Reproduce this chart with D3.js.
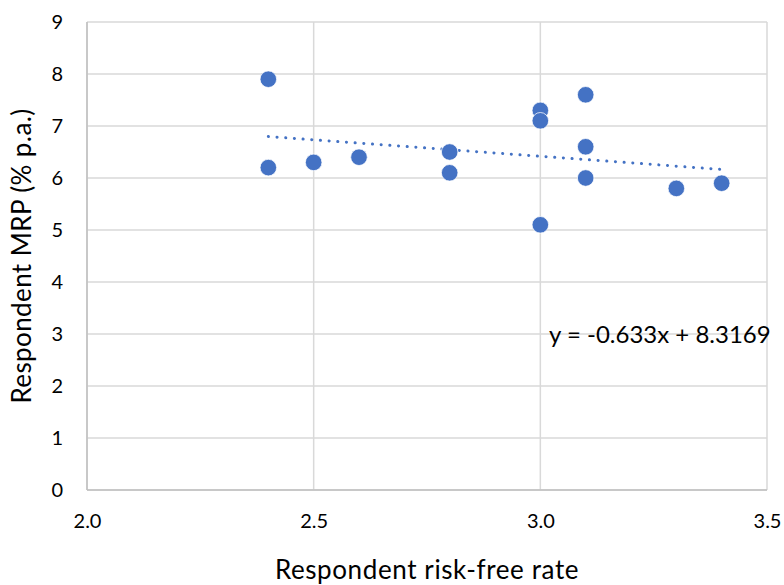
<!DOCTYPE html>
<html>
<head>
<meta charset="utf-8">
<script src="https://cdn.jsdelivr.net/npm/d3@7"></script>
<style>
  body { margin: 0; background: #fff; }
  text { font-family: Lato, "Open Sans", sans-serif; fill: #000; }
</style>
</head>
<body>
<div id="chart"></div>
<script>
// Respondent values
const riskFree = [2.4, 2.4, 2.5, 2.6, 2.8, 2.8, 3.0, 3.0, 3.0, 3.1, 3.1, 3.1, 3.3, 3.4];
const mrp      = [7.9, 6.2, 6.3, 6.4, 6.5, 6.1, 7.3, 7.1, 5.1, 7.6, 6.6, 6.0, 5.8, 5.9];

const xTicks = [2.0, 2.5, 3.0, 3.5];
const yTicks = [0, 1, 2, 3, 4, 5, 6, 7, 8, 9];
const equationLabel = "y = -0.633x + 8.3169";

const width = 784, height = 585;
const margin = { top: 22, right: 17, bottom: 95, left: 87 };

const svg = d3.select("#chart")
  .append("svg")
  .attr("width", width)
  .attr("height", height);

const x = d3.scaleLinear()
  .domain([2.0, 3.5])
  .range([margin.left, width - margin.right]);

const y = d3.scaleLinear()
  .domain([0, 9])
  .range([height - margin.bottom, margin.top]);

// gridlines
svg.append("g")
  .selectAll("line")
  .data(yTicks)
  .join("line")
    .attr("x1", x(2.0))
    .attr("x2", x(3.5))
    .attr("y1", d => y(d))
    .attr("y2", d => y(d))
    .attr("stroke", "#d9d9d9")
    .attr("stroke-width", 1.5);

svg.append("g")
  .selectAll("line")
  .data(xTicks)
  .join("line")
    .attr("x1", d => x(d))
    .attr("x2", d => x(d))
    .attr("y1", y(0))
    .attr("y2", y(9))
    .attr("stroke", "#d9d9d9")
    .attr("stroke-width", 1.5);

// axes lines (left & bottom a bit darker)
svg.append("line")
  .attr("x1", x(2.0)).attr("x2", x(2.0))
  .attr("y1", y(0)).attr("y2", y(9))
  .attr("stroke", "#bfbfbf").attr("stroke-width", 1.5);
svg.append("line")
  .attr("x1", x(2.0)).attr("x2", x(3.5))
  .attr("y1", y(0)).attr("y2", y(0))
  .attr("stroke", "#bfbfbf").attr("stroke-width", 1.5);

// tick labels via d3 axes, with domain and tick lines removed
const yAxis = svg.append("g")
  .attr("transform", `translate(${margin.left},0)`)
  .call(d3.axisLeft(y).tickValues(yTicks).tickSize(0).tickPadding(24).tickFormat(d3.format("d")));
yAxis.select(".domain").remove();
yAxis.selectAll("text").style("font-size", "20px").style("font-family", "Lato, sans-serif").attr("fill", "#000");

const xAxis = svg.append("g")
  .attr("transform", `translate(0,${height - margin.bottom})`)
  .call(d3.axisBottom(x).tickValues(xTicks).tickSize(0).tickPadding(24).tickFormat(d3.format(".1f")));
xAxis.select(".domain").remove();
xAxis.selectAll("text").style("font-size", "20px").style("font-family", "Lato, sans-serif").attr("fill", "#000");

// trendline: least squares fit of the points
const mx = d3.mean(riskFree), my = d3.mean(mrp);
const slope = d3.sum(riskFree, (v, i) => (v - mx) * (mrp[i] - my)) / d3.sum(riskFree, v => (v - mx) * (v - mx));
const intercept = my - slope * mx;
const xExtent = d3.extent(riskFree);

svg.append("path")
  .datum(xExtent)
  .attr("d", d3.line().x(d => x(d)).y(d => y(slope * d + intercept)))
  .attr("fill", "none")
  .attr("stroke", "#4472c4")
  .attr("stroke-width", 3)
  .attr("stroke-linecap", "round")
  .attr("stroke-dasharray", "0.1 8.6");

// points
svg.append("g")
  .selectAll("circle")
  .data(riskFree.map((v, i) => [v, mrp[i]]))
  .join("circle")
    .attr("cx", d => x(d[0]))
    .attr("cy", d => y(d[1]))
    .attr("r", 8.3)
    .attr("fill", "#4472c4")
    .attr("stroke", "#fff")
    .attr("stroke-width", 0.75);

// equation label
svg.append("text")
  .attr("x", 549)
  .attr("y", y(3) + 9)
  .style("font-size", "24px")
  .text(equationLabel);

// axis titles
svg.append("text")
  .attr("x", (x(2.0) + x(3.5)) / 2)
  .attr("y", 579)
  .attr("text-anchor", "middle")
  .style("font-size", "26px")
  .style("letter-spacing", "0.6px")
  .text("Respondent risk-free rate");

svg.append("text")
  .attr("transform", `translate(31,${(y(0) + y(9)) / 2}) rotate(-90)`)
  .attr("text-anchor", "middle")
  .style("font-size", "26px")
  .style("letter-spacing", "0.4px")
  .text("Respondent MRP (% p.a.)");
</script>
</body>
</html>
